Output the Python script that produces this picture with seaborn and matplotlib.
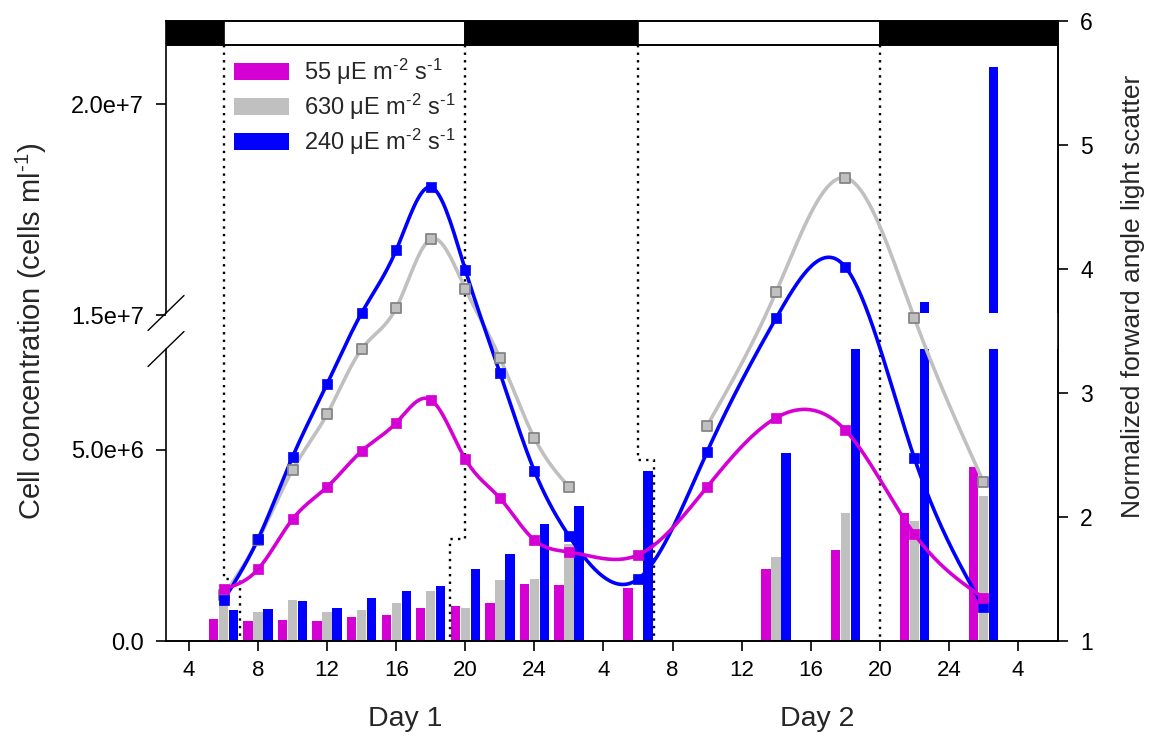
import numpy as np
import pandas as pd
import matplotlib
matplotlib.use("Agg")
import matplotlib.pyplot as plt
from matplotlib.patches import Patch, Rectangle
import seaborn as sns

# ---------------------------------------------------------------- data
# sampling times, hours after midnight of day 1
cell_hours = [6, 8, 10, 12, 14, 16, 18, 20, 22, 24, 26, 30, 34, 38, 42, 46, 50]
cells_55 = [1.36e6, 1.88e6, 3.19e6, 4.03e6, 4.97e6, 5.71e6, 6.31e6, 4.76e6, 3.74e6,
            2.64e6, 2.33e6, 2.25e6, 4.03e6, 5.84e6, 5.52e6, 2.80e6, 1.13e6]
cells_240 = [1.07e6, 2.67e6, 4.82e6, 6.73e6, 1.505e7, 1.654e7, 1.803e7, 1.607e7, 7.02e6,
             4.45e6, 2.75e6, 1.62e6, 4.95e6, 1.435e7, 1.614e7, 4.79e6, 0.89e6]
hours_630_day1 = [6, 8, 10, 12, 14, 16, 18, 20, 22, 24, 26]
cells_630_day1 = [1.20e6, 2.64e6, 4.48e6, 5.94e6, 7.64e6, 1.517e7, 1.680e7, 1.562e7,
                  7.41e6, 5.31e6, 4.03e6]
hours_630_day2 = [34, 38, 42, 46, 50]
cells_630_day2 = [5.63e6, 1.555e7, 1.825e7, 1.435e7, 4.17e6]

# normalized forward angle light scatter (bars)
fals_hours = [6, 8, 10, 12, 14, 16, 18, 20, 22, 24, 26, 30, 38, 42, 46, 50]
fals_55 = [1.18, 1.16, 1.17, 1.16, 1.19, 1.21, 1.27, 1.28, 1.31, 1.46, 1.45, 1.43,
           1.58, 1.73, 2.03, 2.40]
fals_630 = [1.31, 1.23, 1.33, 1.23, 1.25, 1.31, 1.40, 1.27, 1.49, 1.50, 1.78, np.nan,
            1.68, 2.03, 1.97, 2.17]
fals_240 = [1.25, 1.26, 1.32, 1.27, 1.35, 1.40, 1.44, 1.58, 1.70, 1.94, 2.09, 2.37,
            2.52, 3.50, 3.73, 5.63]

HY = "\u2010"  # typographic hyphen used in the superscripts
series_labels = [f"55 \u03bcE m$^{{{HY}2}}$ s$^{{{HY}1}}$",
                 f"630 \u03bcE m$^{{{HY}2}}$ s$^{{{HY}1}}$",
                 f"240 \u03bcE m$^{{{HY}2}}$ s$^{{{HY}1}}$"]

# light / dark periods (start, end, is_light)
photoperiods = [(2.0, 6.0, False), (6.0, 20.0, True), (20.0, 30.0, False),
                (30.0, 44.0, True), (44.0, 56.0, False)]

tick_hours = [4, 8, 12, 16, 20, 24, 28, 32, 36, 40, 44, 48, 52]
tick_labels = ["4", "8", "12", "16", "20", "24", "4", "8", "12", "16", "20", "24", "4"]
y_ticks = [0, 5e6, 1.5e7, 2e7]
y_tick_labels = ["0.0", "5.0e+6", "1.5e+7", "2.0e+7"]

MAGENTA = "#d400d4"
GRAY = "#c0c0c0"
BLUE = "#0000ff"

# ---------------------------------------------------------------- style
sns.set_style("ticks")
plt.rcParams["font.family"] = ["Liberation Sans", "DejaVu Sans"]
plt.rcParams["mathtext.fontset"] = "custom"
plt.rcParams["mathtext.rm"] = "Liberation Sans"
plt.rcParams["mathtext.it"] = "Liberation Sans:italic"
plt.rcParams["mathtext.default"] = "regular"

fig = plt.figure(figsize=(11.51, 7.36), dpi=100)
ax = fig.add_axes([166 / 1151, 1 - 641 / 736, 892 / 1151, 620 / 736])
ax2 = ax.twinx()
ax.set_zorder(2)
ax2.set_zorder(1)
ax.patch.set_visible(False)
ax2.patch.set_visible(True)
ax2.patch.set_facecolor("white")

# broken cell-concentration axis: two linear segments joined by a short gap
V_NODES = np.array([-1e8, 0.0, 7.64e6, 1.5e7, 1e8])
F_NODES = np.array([-3820.0, 0.0, 292.0, 326.0, 326.0 + 85e6 * 42.2e-6])


def fwd(v):
    return np.interp(v, V_NODES, F_NODES)


def inv(f):
    return np.interp(f, F_NODES, V_NODES)


ax.set_yscale("function", functions=(fwd, inv))


def natural_spline(x, y, xs):
    x = np.asarray(x, float)
    y = np.asarray(y, float)
    n = len(x)
    h = np.diff(x)
    A = np.zeros((n, n))
    b = np.zeros(n)
    A[0, 0] = A[-1, -1] = 1.0
    for i in range(1, n - 1):
        A[i, i - 1] = h[i - 1]
        A[i, i] = 2 * (h[i - 1] + h[i])
        A[i, i + 1] = h[i]
        b[i] = 3 * ((y[i + 1] - y[i]) / h[i] - (y[i] - y[i - 1]) / h[i - 1])
    c = np.linalg.solve(A, b)
    bc = (y[1:] - y[:-1]) / h - h * (2 * c[:-1] + c[1:]) / 3
    d = (c[1:] - c[:-1]) / (3 * h)
    idx = np.clip(np.searchsorted(x, xs) - 1, 0, n - 2)
    dx = xs - x[idx]
    return y[idx] + bc[idx] * dx + c[idx] * dx ** 2 + d[idx] * dx ** 3


def smooth(hours, values):
    xs = np.linspace(hours[0], hours[-1], 400)
    return xs, inv(natural_spline(hours, fwd(np.asarray(values)), xs))


# ---------------------------------------------------------------- bars (right axis)
bars = pd.DataFrame({
    "hour": np.tile(fals_hours, 3),
    "series": np.repeat(series_labels, len(fals_hours)),
    "fals": np.concatenate([fals_55, fals_630, fals_240]),
}).dropna()
sns.barplot(data=bars, x="hour", y="fals", hue="series", hue_order=series_labels,
            palette=[MAGENTA, GRAY, BLUE], native_scale=True, width=0.87, gap=0.06,
            saturation=1, errorbar=None, linewidth=0, legend=False, ax=ax2)
ax2.set_ylim(1, 6)
ax2.set_yticks([1, 2, 3, 4, 5, 6])
# gap of the axis break cuts through the bars
ax2.axhspan(1 + (641 - 349) / 124, 1 + (641 - 313) / 124, color="white", lw=0, zorder=3)

# light/dark boundaries (dotted)
dot = dict(color="black", lw=1.7, ls=(0, (1, 2.2)), zorder=4)
strip_bottom = 1 + (641 - 45) / 124
ax2.plot([6.05, 6.05, 6.95, 6.95], [strip_bottom, 1.5, 1.5, 1.0], **dot)
ax2.plot([20.0, 20.0, 19.1, 19.1], [strip_bottom, 1.82, 1.82, 1.0], **dot)
ax2.plot([30.0, 30.0, 30.9, 30.9], [strip_bottom, 2.46, 2.46, 1.0], **dot)
ax2.plot([44.0, 44.0], [strip_bottom, 1.03], **dot)

# light/dark strip along the top
strip_tr = ax2.get_xaxis_transform()
for start, end, light in photoperiods:
    ax2.add_patch(Rectangle((start, 0.961), end - start, 0.039, transform=strip_tr,
                            facecolor="white" if light else "black", edgecolor="black",
                            lw=1.2, zorder=5, clip_on=True))
ax2.axhline(strip_bottom, color="black", lw=1.2, zorder=5)

# ---------------------------------------------------------------- cell concentration (left axis)
for hrs, vals in [(hours_630_day1, cells_630_day1), (hours_630_day2, cells_630_day2)]:
    xs, ys = smooth(hrs, vals)
    sns.lineplot(x=xs, y=ys, sort=False, estimator=None, color=GRAY, lw=2.6, ax=ax)
    sns.scatterplot(x=hrs, y=vals, marker="s", s=55, color=GRAY, edgecolor="#858585",
                    linewidth=1.3, zorder=3, ax=ax)
for vals, col in [(cells_240, BLUE), (cells_55, MAGENTA)]:
    xs, ys = smooth(cell_hours, vals)
    sns.lineplot(x=xs, y=ys, sort=False, estimator=None, color=col, lw=2.6, ax=ax)
    sns.scatterplot(x=cell_hours, y=vals, marker="s", s=60, color=col, edgecolor=col,
                    linewidth=0.5, zorder=3, ax=ax)

ax.set_ylim(0, inv(620.0))
ax.set_xlim(2.668, 54.32)
ax.set_yticks(y_ticks)
ax.set_yticklabels(y_tick_labels)
ax.set_xticks(tick_hours)
ax.set_xticklabels(tick_labels)
ax.set_xlabel("")
ax.set_ylabel("")
ax2.set_xlabel("")
ax2.set_ylabel("")

for a in (ax, ax2):
    a.tick_params(direction="out", length=7, width=1.2, colors="black")
    for s in a.spines.values():
        s.set_linewidth(1.2)
        s.set_color("black")
ax.tick_params(axis="x", pad=6.5, labelsize=16)
ax.tick_params(axis="y", pad=9, labelsize=17)
ax2.tick_params(axis="y", pad=9, labelsize=16.5)

# left spine drawn in two pieces with break marks
ax.spines["left"].set_visible(False)
ax2.spines["left"].set_visible(False)
b_low, b_high = 292 / 620, 328 / 620
ax.plot([0, 0], [0, b_low], transform=ax.transAxes, color="black", lw=1.2, clip_on=False)
ax.plot([0, 0], [b_high, 1], transform=ax.transAxes, color="black", lw=1.2, clip_on=False)
ddx, ddy = 18 / 892, 17.5 / 620
for yb in (b_low, b_high):
    ax.plot([-ddx, ddx], [yb - ddy, yb + ddy], transform=ax.transAxes, color="black",
            lw=1.0, clip_on=False)

# labels
fig.text(31 / 1151, 1 - 331 / 736, f"Cell concentration (cells ml$^{{{HY}1}}$)",
         rotation=90, ha="center", va="center", fontsize=21)
fig.text(1133 / 1151, 1 - 296 / 736, "Normalized forward angle light scatter",
         rotation=90, ha="center", va="center", fontsize=19)
ax.text(16.53, -0.126, "Day 1", transform=ax.get_xaxis_transform(), ha="center",
        va="center", fontsize=20.5)
ax.text(40.36, -0.126, "Day 2", transform=ax.get_xaxis_transform(), ha="center",
        va="center", fontsize=20.5)

handles = [Patch(facecolor=c, edgecolor="none") for c in (MAGENTA, GRAY, BLUE)]
ax.legend(handles, series_labels, loc="upper left", bbox_to_anchor=(68 / 892, 1 - 36 / 620),
          frameon=False, fontsize=17, handlelength=2.35, handleheight=0.72,
          handletextpad=0.6, labelspacing=0.2, borderpad=0, borderaxespad=0)

fig.savefig("out.png", dpi=100)
